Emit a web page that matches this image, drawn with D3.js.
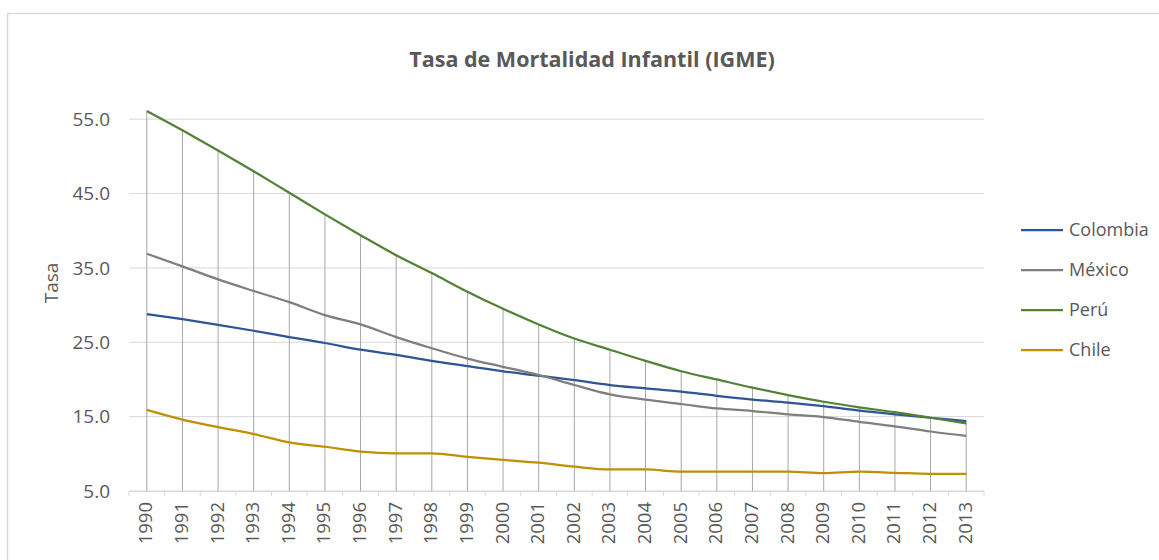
<!DOCTYPE html>
<html>
<head>
<meta charset="utf-8">
<script src="https://cdn.jsdelivr.net/npm/d3@7"></script>
<style>
  body { margin: 0; background: #fff; }
  text { font-family: "Open Sans", "DejaVu Sans", sans-serif; fill: #595959; }
</style>
</head>
<body>
<div id="chart"></div>
<script>
var years = [1990, 1991, 1992, 1993, 1994, 1995, 1996, 1997, 1998, 1999, 2000, 2001,
             2002, 2003, 2004, 2005, 2006, 2007, 2008, 2009, 2010, 2011, 2012, 2013];

var colombia = [28.8, 28.1, 27.35, 26.55, 25.7, 24.9, 24.0, 23.3, 22.5, 21.8, 21.1, 20.5,
                19.9, 19.25, 18.8, 18.35, 17.8, 17.3, 16.9, 16.4, 15.8, 15.3, 14.85, 14.4];
var mexico = [36.9, 35.2, 33.45, 31.9, 30.4, 28.65, 27.4, 25.7, 24.2, 22.8, 21.7, 20.6,
              19.25, 18.0, 17.3, 16.7, 16.1, 15.75, 15.3, 14.95, 14.3, 13.7, 13.0, 12.4];
var peru = [56.1, 53.5, 50.8, 48.0, 45.1, 42.2, 39.4, 36.7, 34.3, 31.8, 29.5, 27.4,
            25.5, 24.0, 22.5, 21.1, 20.0, 18.9, 17.9, 17.0, 16.25, 15.6, 14.85, 14.1];
var chile = [15.9, 14.6, 13.6, 12.66, 11.55, 10.95, 10.3, 10.07, 10.07, 9.6, 9.17, 8.8,
             8.27, 7.9, 7.9, 7.6, 7.6, 7.6, 7.6, 7.4, 7.6, 7.45, 7.3, 7.3];

var seriesNames = ["Colombia", "México", "Perú", "Chile"];
var seriesColors = ["#2F5597", "#7F7F7F", "#548235", "#BF9000"];
var yTicks = [5, 15, 25, 35, 45, 55];

var series = [colombia, mexico, peru, chile].map(function(vals, i) {
    return {
        name: seriesNames[i],
        color: seriesColors[i],
        values: vals.map(function(v, j) { return {year: years[j], value: v}; })
    };
});

var W = 1159, H = 560;
var margin = {top: 82, left: 129, right: W - 984, bottom: H - 491};
var width = W - margin.left - margin.right,
    height = H - margin.top - margin.bottom;

var svg = d3.select("#chart").append("svg")
    .attr("width", W)
    .attr("height", H);

// chart frame
svg.append("rect")
    .attr("x", 7.5).attr("y", 13.5)
    .attr("width", 1300).attr("height", 700)
    .attr("fill", "#fff")
    .attr("stroke", "#d9d9d9")
    .attr("stroke-width", 1.5);

svg.append("text")
    .attr("x", 592)
    .attr("y", 67)
    .attr("text-anchor", "middle")
    .style("font-size", "21.5px")
    .style("font-weight", "bold")
    .text("Tasa de Mortalidad Infantil (IGME)");

var g = svg.append("g")
    .attr("transform", "translate(" + margin.left + "," + margin.top + ")");

var x = d3.scaleBand().domain(years).range([0, width]);
var y = d3.scaleLinear().domain([5, 60]).range([height, 0]);

// gridlines
g.selectAll(".grid")
    .data(yTicks)
    .enter().append("line")
    .attr("class", "grid")
    .attr("x1", 0).attr("x2", width)
    .attr("y1", d => y(d)).attr("y2", d => y(d))
    .attr("stroke", "#d9d9d9")
    .attr("stroke-width", 1);

// y axis labels
var yAxis = d3.axisLeft(y).tickValues(yTicks).tickFormat(d3.format(".1f")).tickSize(0).tickPadding(19);
var yg = g.append("g").call(yAxis);
yg.select(".domain").remove();
yg.selectAll("text").style("font-size", "19px").style("fill", "#595959");

// x axis
var xAxis = d3.axisBottom(x).tickSize(0).tickPadding(6);
var xg = g.append("g")
    .attr("transform", "translate(0," + height + ")")
    .call(xAxis);
xg.select(".domain").attr("stroke", "#d9d9d9");
xg.selectAll("text")
    .style("font-size", "18.5px")
    .style("fill", "#595959")
    .attr("transform", "rotate(-90)")
    .attr("text-anchor", "end")
    .attr("x", -11)
    .attr("y", -1)
    .attr("dy", "0.35em");

// tick marks at category edges
g.selectAll(".xtick")
    .data(years.concat([null]))
    .enter().append("line")
    .attr("class", "xtick")
    .attr("x1", (d, i) => i * x.step())
    .attr("x2", (d, i) => i * x.step())
    .attr("y1", height).attr("y2", height + 5)
    .attr("stroke", "#d9d9d9");

// drop lines from highest point
var maxByYear = years.map(function(yr, j) {
    return {year: yr, value: d3.max(series, s => s.values[j].value)};
});
g.selectAll(".drop")
    .data(maxByYear)
    .enter().append("line")
    .attr("class", "drop")
    .attr("x1", d => x(d.year) + x.bandwidth() / 2)
    .attr("x2", d => x(d.year) + x.bandwidth() / 2)
    .attr("y1", d => y(d.value))
    .attr("y2", height)
    .attr("stroke", "#a6a6a6")
    .attr("stroke-width", 1);

var line = d3.line()
    .curve(d3.curveMonotoneX)
    .x(d => x(d.year) + x.bandwidth() / 2)
    .y(d => y(d.value));

g.selectAll(".series")
    .data(series)
    .enter().append("path")
    .attr("class", "series")
    .attr("d", d => line(d.values))
    .attr("fill", "none")
    .attr("stroke", d => d.color)
    .attr("stroke-width", 2.25);

// y axis title
svg.append("text")
    .attr("transform", "translate(58,283) rotate(-90)")
    .attr("text-anchor", "middle")
    .style("font-size", "19px")
    .text("Tasa");

// legend
var legend = svg.selectAll(".legend")
    .data(series)
    .enter().append("g")
    .attr("class", "legend")
    .attr("transform", (d, i) => "translate(1021," + (230 + i * 40) + ")");
legend.append("line")
    .attr("x1", 0).attr("x2", 42)
    .attr("y1", 0).attr("y2", 0)
    .attr("stroke", d => d.color)
    .attr("stroke-width", 2.25);
legend.append("text")
    .attr("x", 48)
    .attr("dy", "0.35em")
    .style("font-size", "18px")
    .text(d => d.name);
</script>
</body>
</html>
